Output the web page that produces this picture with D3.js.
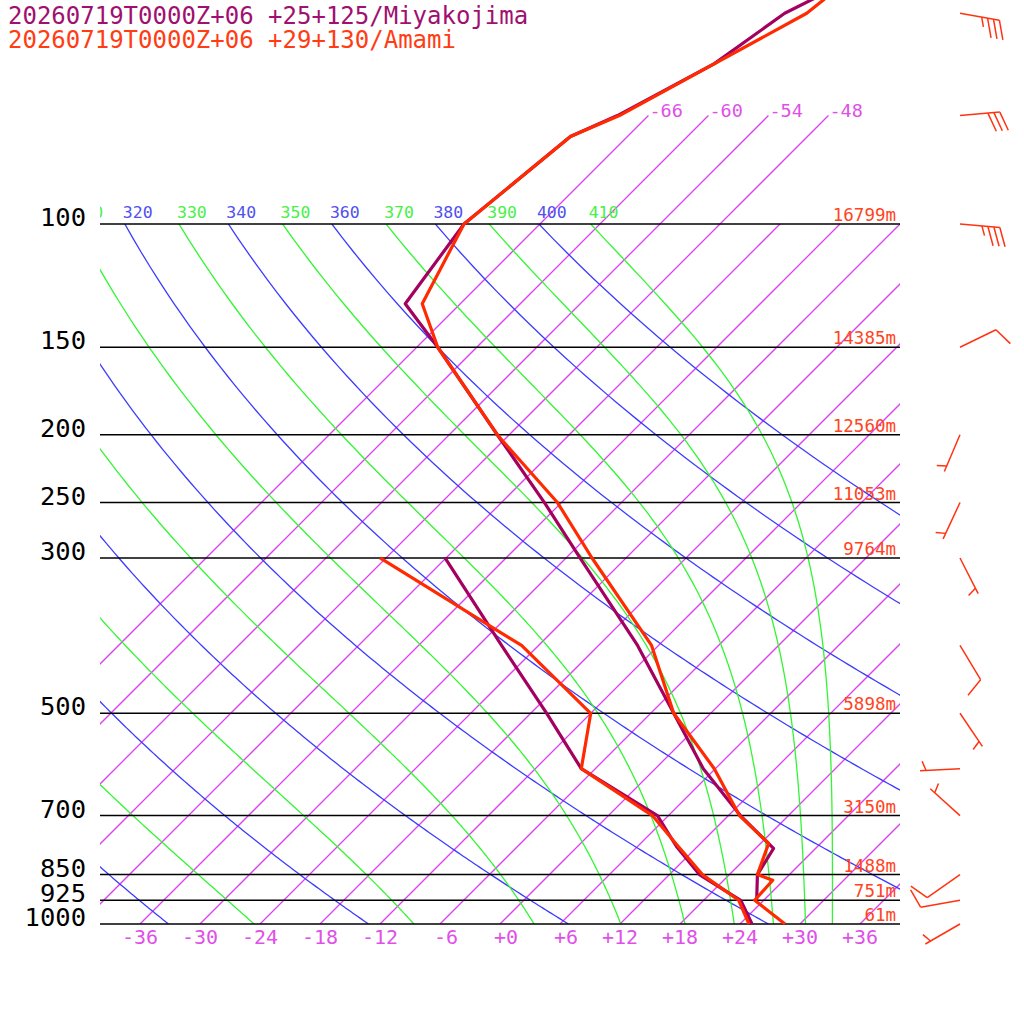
<!DOCTYPE html>
<html>
<head>
<meta charset="utf-8">
<script src="https://cdn.jsdelivr.net/npm/d3@7"></script>
<style>
body { margin: 0; background: #fff; }
svg { display: block; }
text { font-family: "DejaVu Sans Mono", monospace; }
</style>
</head>
<body>
<script>
// titles (one per station)
var titles = ["20260719T0000Z+06 +25+125/Miyakojima", "20260719T0000Z+06 +29+130/Amami"];

// isobars and their labels / heights (Amami)
var isobars = [1000, 925, 850, 700, 500, 300, 250, 200, 150, 100];
var isobarLabels = ["1000", "925", "850", "700", "500", "300", "250", "200", "150", "100"];
var heightLabels = ["61m", "751m", "1488m", "3150m", "5898m", "9764m", "11053m", "12560m", "14385m", "16799m"];

// grid lines
var isotherms = [-66, -60, -54, -48, -42, -36, -30, -24, -18, -12, -6, 0, 6, 12, 18, 24, 30, 36];
var topIsotherms = [-66, -60, -54, -48];
var tempTicks = [-36, -30, -24, -18, -12, -6, 0, 6, 12, 18, 24, 30, 36];
var tempLabels = ["-36", "-30", "-24", "-18", "-12", "-6", "+0", "+6", "+12", "+18", "+24", "+30", "+36"];
var dryThetas = [240, 260, 280, 300, 320, 340, 360, 380, 400];
var moistThetas = [250, 270, 290, 310, 330, 350, 370, 390, 410];

// Miyakojima profile
var miyaTP = [925, 850, 780, 700, 600, 500, 400, 300, 250, 200, 150, 130, 100, 75, 70, 59, 50, 40];
var miyaT  = [23.3, 20.8, 19.8, 13.2, 4.8, -3.7, -14.1, -28.6, -37.7, -49.2, -63.9, -71.5, -73.6, -71.7, -69.1, -64.6, -62.6, -55.9];
var miyaDP = [1000, 925, 850, 775, 700, 600, 500, 400, 300];
var miyaD  = [25.2, 21.7, 15.0, 9.9, 4.9, -7.4, -16.4, -27.7, -42.1];

// Amami profile
var amamiTP = [1000, 925, 866, 850, 767, 700, 600, 500, 400, 300, 250, 200, 150, 130, 100, 75, 70, 50, 40];
var amamiT  = [28.5, 23.1, 22.9, 20.8, 18.8, 13.1, 5.9, -3.7, -12.7, -27.4, -36.4, -49.2, -63.9, -69.8, -73.6, -71.7, -68.9, -60.4, -58.7];
var amamiDP = [1000, 925, 850, 771, 700, 600, 500, 400, 300];
var amamiD  = [24.9, 21.5, 15.3, 9.8, 4.4, -7.4, -12.0, -25.7, -48.6];

// Amami winds
var windP   = [50, 70, 100, 150, 200, 250, 300, 400, 500, 600, 700, 850, 925, 1000];
var windDir = [100, 85, 95, 64, 203, 205, 153, 149, 146, 267, 312, 235, 260, 240];
var windKt  = [35, 30, 35, 10, 5, 5, 5, 10, 5, 5, 5, 10, 10, 5];

var colPurple = "#a3005f", colRed = "#ff2a00";
var colBlue = "#3c3cff", colGreen = "#33f533", colIso = "#dd40ee";

var svg = d3.select("body").append("svg")
    .attr("width", 1024)
    .attr("height", 1024);
svg.append("rect").attr("width", 1024).attr("height", 1024).attr("fill", "#fff");

var y = d3.scaleLog().domain([1000, 100]).range([924, 224]);
var xT = d3.scaleLinear().domain([-40, 40]).range([100, 900]);
function sx(T, p) { return xT(T) + (y(1000) - y(p)); }

var defs = svg.append("defs");
defs.append("clipPath").attr("id", "clipAd")
  .append("rect").attr("x", 100).attr("y", y(100)).attr("width", 800).attr("height", y(1000) - y(100));
defs.append("clipPath").attr("id", "clipAll")
  .append("rect").attr("x", 100).attr("y", 0).attr("width", 800).attr("height", y(1000));

var skewLine = d3.line().x(function(d) { return sx(d[0], d[1]); }).y(function(d) { return y(d[1]); });

// isotherms
var gIso = svg.append("g").attr("clip-path", "url(#clipAll)");
isotherms.forEach(function(T) {
  var pTop = topIsotherms.indexOf(T) >= 0 ? 70 : 100;
  gIso.append("path").attr("d", skewLine([[T, 1000], [T, pTop]]))
    .style("fill", "none").style("stroke", colIso).style("stroke-width", "1.3px");
});

// adiabats
var levs = d3.range(1000, 99, -5);
function satThetaE(Tk, p) {
  var e = 6.112 * Math.exp(17.67 * (Tk - 273.15) / (Tk - 273.15 + 243.5));
  if (e > 0.6 * p) return 1e4;
  var r = 0.622 * e / (p - e);
  return Tk * Math.pow(1000 / p, 0.2854 * (1 - 0.28 * r)) *
    Math.exp((3.376 / Tk - 0.00254) * r * 1000 * (1 + 0.81 * r));
}
function moistT(te, p) {
  var lo = 120, hi = 340, mid = 0;
  for (var i = 0; i < 60; i++) {
    mid = (lo + hi) / 2;
    if (satThetaE(mid, p) < te) lo = mid; else hi = mid;
  }
  return mid - 273.15;
}
function dryT(th, p) { return th * Math.pow(p / 1000, 0.286) - 273.15; }

var gAd = svg.append("g").attr("clip-path", "url(#clipAd)");
dryThetas.forEach(function(th) {
  gAd.append("path").attr("d", skewLine(levs.map(function(p) { return [dryT(th, p), p]; })))
    .style("fill", "none").style("stroke", colBlue).style("stroke-width", "1.3px");
});
moistThetas.forEach(function(th) {
  gAd.append("path").attr("d", skewLine(levs.map(function(p) { return [moistT(th, p), p]; })))
    .style("fill", "none").style("stroke", colGreen).style("stroke-width", "1.3px");
});

// isobars
svg.selectAll(".isobar").data(isobars).enter().append("line")
  .attr("x1", 100).attr("x2", 900)
  .attr("y1", function(d) { return y(d); }).attr("y2", function(d) { return y(d); })
  .attr("stroke", "#000").attr("stroke-width", 1.5);

// labels inside plot area (theta labels, top isotherm labels)
var gLab = svg.append("g").attr("clip-path", "url(#clipAll)");
dryThetas.concat(moistThetas).forEach(function(th) {
  var isDry = dryThetas.indexOf(th) >= 0;
  var T = isDry ? dryT(th, 100) : moistT(th, 100);
  var lx = sx(T, 100) - 2;
  if (lx + 30 < 100) return; // entirely left of the plot
  gLab.append("text").attr("x", lx).attr("y", y(100) - 6)
    .attr("font-size", 16.5).attr("fill", isDry ? "#5050f0" : "#48f048").text(th);
});
topIsotherms.forEach(function(T) {
  gLab.append("text").attr("x", sx(T, 70) + 1).attr("y", y(70) + 1.5)
    .attr("font-size", 18.5).attr("fill", "#e050e8").text(T);
});

// bottom temperature labels
svg.selectAll(".tlab").data(tempTicks).enter().append("text")
  .attr("x", function(d) { return xT(d) + 18; }).attr("y", 944)
  .attr("text-anchor", "end").attr("font-size", 20).attr("fill", "#e050e8")
  .text(function(d, i) { return tempLabels[i]; });

// pressure labels
svg.selectAll(".plab").data(isobars).enter().append("text")
  .attr("x", 86).attr("y", function(d) { return y(d) + 2; })
  .attr("text-anchor", "end").attr("font-size", 25.5).attr("fill", "#000")
  .text(function(d, i) { return isobarLabels[i]; });

// height labels
svg.selectAll(".hlab").data(isobars).enter().append("text")
  .attr("x", 896).attr("y", function(d) { return y(d) - 3; })
  .attr("text-anchor", "end").attr("font-size", 17.5).attr("fill", "#ff4422")
  .text(function(d, i) { return heightLabels[i]; });

// profiles
function profile(P, V, color) {
  svg.append("path").attr("d", skewLine(P.map(function(p, i) { return [V[i], p]; })))
    .attr("fill", "none").attr("stroke", color).attr("stroke-width", 3.2)
    .attr("stroke-linejoin", "round");
}
profile(miyaDP, miyaD, colPurple);
profile(miyaTP, miyaT, colPurple);
profile(amamiDP, amamiD, colRed);
profile(amamiTP, amamiT, colRed);

// wind barbs
var gW = svg.append("g").attr("stroke", "#ff3311").attr("stroke-width", 1.5).attr("fill", "none");
var ang = 70 * Math.PI / 180;
windP.forEach(function(p, i) {
  var x0 = 960, y0 = y(p);
  var a = windDir[i] * Math.PI / 180;
  var dx = Math.sin(a), dy = -Math.cos(a);
  var fx = dx * Math.cos(ang) - dy * Math.sin(ang), fy = dx * Math.sin(ang) + dy * Math.cos(ang);
  gW.append("line").attr("x1", x0).attr("y1", y0).attr("x2", x0 + 40 * dx).attr("y2", y0 + 40 * dy);
  var kt = windKt[i], n10 = Math.floor(kt / 10), n5 = Math.round((kt % 10) / 5);
  var pos = 40;
  for (var k = 0; k < n10; k++) {
    gW.append("line").attr("x1", x0 + pos * dx).attr("y1", y0 + pos * dy)
      .attr("x2", x0 + pos * dx + 20 * fx).attr("y2", y0 + pos * dy + 20 * fy);
    pos -= 6;
  }
  if (n5) {
    if (n10 === 0) pos = 34;
    gW.append("line").attr("x1", x0 + pos * dx).attr("y1", y0 + pos * dy)
      .attr("x2", x0 + pos * dx + 10 * fx).attr("y2", y0 + pos * dy + 10 * fy);
  }
});

// titles
svg.append("text").attr("x", 8).attr("y", 24).attr("font-size", 24).attr("fill", "#a01070").text(titles[0]);
svg.append("text").attr("x", 8).attr("y", 48).attr("font-size", 24).attr("fill", "#ff3c14").text(titles[1]);
</script>
</body>
</html>
